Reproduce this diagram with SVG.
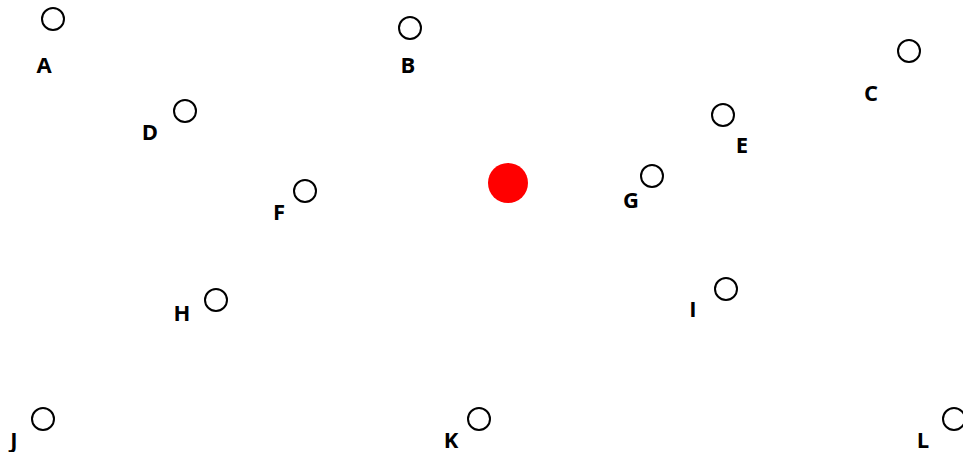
<svg xmlns="http://www.w3.org/2000/svg" width="963" height="452" viewBox="0 0 963 452">
<style>
.n{fill:#fff;stroke:#000;stroke-width:2}
.t{font-family:"Open Sans","Liberation Sans",sans-serif;font-weight:bold;font-size:22px;fill:#000;text-anchor:middle}
</style>
<rect width="963" height="452" fill="#fff"/>
<g id="connectors"></g>
<g id="A"><circle class="n" cx="53" cy="19" r="11"/><text class="t" x="44" y="73">A</text></g>
<g id="B"><circle class="n" cx="410" cy="28" r="11"/><text class="t" x="408" y="73">B</text></g>
<g id="C"><circle class="n" cx="909" cy="51" r="11"/><text class="t" x="871" y="101">C</text></g>
<g id="D"><circle class="n" cx="185" cy="111" r="11"/><text class="t" x="150" y="140">D</text></g>
<g id="E"><circle class="n" cx="723" cy="115" r="11"/><text class="t" x="742" y="153">E</text></g>
<g id="F"><circle class="n" cx="305" cy="191" r="11"/><text class="t" x="279" y="220">F</text></g>
<g id="G"><circle class="n" cx="652" cy="176" r="11"/><text class="t" x="631" y="208">G</text></g>
<g id="H"><circle class="n" cx="216" cy="300" r="11"/><text class="t" x="182" y="321">H</text></g>
<g id="I"><circle class="n" cx="726" cy="289" r="11"/><text class="t" x="693" y="317">I</text></g>
<g id="J"><circle class="n" cx="43" cy="419" r="11"/><text class="t" x="14" y="448">J</text></g>
<g id="K"><circle class="n" cx="479" cy="419" r="11"/><text class="t" x="451" y="448">K</text></g>
<g id="L"><circle class="n" cx="954" cy="419" r="11"/><text class="t" x="923" y="448">L</text></g>
<g id="center"><circle cx="508" cy="183" r="20" fill="#f00"/></g>
</svg>
